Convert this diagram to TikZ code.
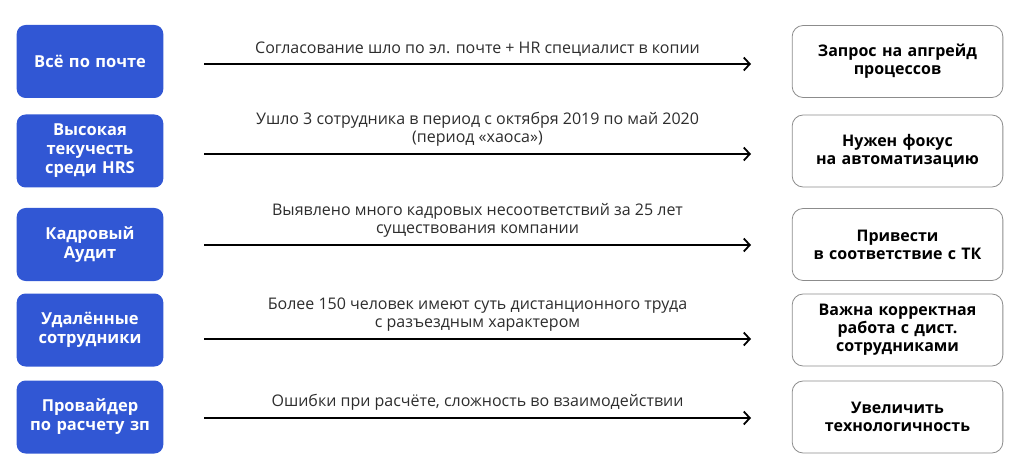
\documentclass[tikz,border=0pt]{standalone}
\usepackage{fontspec}
\setmainfont{Open Sans}
\newfontfamily\boxfont{Open Sans}
\usetikzlibrary{arrows.meta}

\definecolor{sinij}{RGB}{49,87,212}
\definecolor{ramka}{RGB}{140,140,140}
\definecolor{tekst}{RGB}{45,45,45}

\tikzstyle{prichina} = [rectangle, rounded corners=9pt, fill=sinij, text=white,
    minimum width=142pt, minimum height=73pt, text width=140pt, align=center,
    font=\boxfont\bfseries\fontsize{16.5}{19}\selectfont]
\tikzstyle{itog} = [rectangle, rounded corners=11pt, draw=ramka, line width=0.8pt,
    text=black, minimum width=208pt, minimum height=72pt, text width=204pt,
    align=center, font=\boxfont\bfseries\fontsize{16}{18}\selectfont]
\tikzstyle{strelka} = [line width=1.8pt, -{Straight Barb[length=6pt,width=13pt]}]
\tikzstyle{podpis} = [midway, anchor=south, yshift=3pt, align=center, text=tekst,
    font=\fontsize{16}{18}\selectfont]

\begin{document}
\begin{tikzpicture}[x=1pt, y=-1pt]
\useasboundingbox (0,0) rectangle (1024,470);

% причины слева
\node[prichina] (prichina1) at (90,61.5) {Всё по почте};
\node[prichina] (prichina2) at (90,151) {Высокая\\текучесть\\среди HRS};
\node[prichina] (prichina3) at (90,244.5) {Кадровый\\Аудит};
\node[prichina] (prichina4) at (90,330) {Удалённые\\сотрудники};
\node[prichina] (prichina5) at (90,417) {Провайдер\\по расчету зп};

% итоги справа
\node[itog] (itog1) at (897.5,61.5) {Запрос на апгрейд\\процессов};
\node[itog] (itog2) at (897.5,151) {Нужен фокус\\на автоматизацию};
\node[itog] (itog3) at (897.5,244.5) {Привести\\в соответствие с ТК};
\node[itog] (itog4) at (897.5,330) {Важна корректная\\работа с дист.\\сотрудниками};
\node[itog] (itog5) at (897.5,417) {Увеличить\\технологичность};

% концы стрелок
\coordinate (start1) at (204,64);  \coordinate (konec1) at (751,64);
\coordinate (start2) at (204,154); \coordinate (konec2) at (751,154);
\coordinate (start3) at (204,245); \coordinate (konec3) at (751,245);
\coordinate (start4) at (204,339); \coordinate (konec4) at (751,339);
\coordinate (start5) at (204,418); \coordinate (konec5) at (751,418);

\draw[strelka] (start1) -- (konec1)
    node[podpis] {Согласование шло по эл. почте + HR специалист в копии};
\draw[strelka] (start2) -- (konec2)
    node[podpis] {Ушло 3 сотрудника в период с октября 2019 по май 2020\\(период «хаоса»)};
\draw[strelka] (start3) -- (konec3)
    node[podpis] {Выявлено много кадровых несоответствий за 25 лет\\существования компании};
\draw[strelka] (start4) -- (konec4)
    node[podpis] {Более 150 человек имеют суть дистанционного труда\\с разъездным характером};
\draw[strelka] (start5) -- (konec5)
    node[podpis] {Ошибки при расчёте, сложность во взаимодействии};
\end{tikzpicture}
\end{document}
